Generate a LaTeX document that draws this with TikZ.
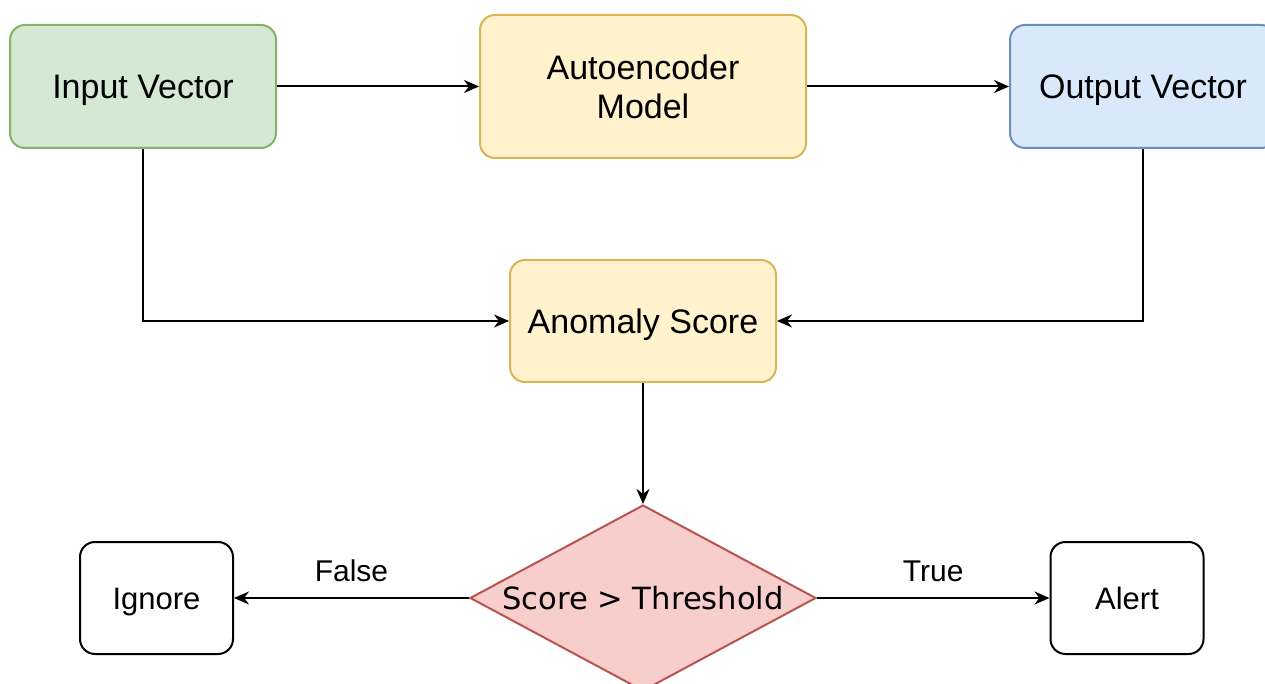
\documentclass[tikz,border=0pt]{standalone}
\usepackage{fontspec}
\setmainfont{Liberation Sans}
\newfontfamily\dejavu{DejaVu Sans}
\usetikzlibrary{shapes.geometric,arrows.meta}

\definecolor{greenfill}{HTML}{D5E8D4}
\definecolor{greenline}{HTML}{82B366}
\definecolor{yellowfill}{HTML}{FFF2CC}
\definecolor{yellowline}{HTML}{D6B656}
\definecolor{bluefill}{HTML}{DAE8FC}
\definecolor{blueline}{HTML}{6C8EBF}
\definecolor{redfill}{HTML}{F8CECC}
\definecolor{redline}{HTML}{B85450}

\tikzset{
  box/.style={draw, rounded corners=7.5pt, align=center, inner sep=0pt,
    font=\fontsize{17}{19.5}\selectfont},
  oneline/.style={text height=#1, text depth=0pt},
  smallbox/.style={box, oneline=11.1pt, font=\fontsize{15.5}{18}\selectfont,
    minimum width=76.5pt, minimum height=56pt},
  edgelabel/.style={above=7.5pt, inner sep=0pt, font=\fontsize{15}{18}\selectfont}
}

\begin{document}
\begin{tikzpicture}[x=0.5pt,y=-0.5pt,>={Stealth[length=7.5pt,width=6.5pt]},line width=1pt]
\clip (0,0) rectangle (1265,684);

\node[name=input, box, oneline=12.2pt, fill=greenfill, draw=greenline, minimum width=133pt, minimum height=61.5pt] at (143,86.5) {Input Vector};
\node[name=model, box, fill=yellowfill, draw=yellowline, minimum width=163pt, minimum height=71.5pt] at (643,86.5) {Autoencoder\\Model};
\node[name=output, box, oneline=12.2pt, fill=bluefill, draw=blueline, minimum width=133pt, minimum height=61.5pt] at (1143,86.5) {Output Vector};
\node[name=score, box, oneline=12.2pt, fill=yellowfill, draw=yellowline, minimum width=133pt, minimum height=61pt] at (643,321) {Anomaly Score};
\node[name=check, shape=diamond, draw=redline, fill=redfill, inner sep=0pt, aspect=1.86, oneline=11.2pt,
  minimum width=173pt, minimum height=93pt, font=\dejavu\fontsize{15.3}{18}\selectfont] at (643,598) {Score > Threshold};
\node[name=ignore, smallbox] at (156.5,598) {Ignore};
\node[name=alert, smallbox] at (1127,598) {Alert};

\draw(input.east) edge[->](model.west);
\draw(model.east) edge[->](output.west);
\draw[->](input.south) |- (score.west);
\draw[->](output.south) |- (score.east);
\draw(score.south) edge[->](check.north);
\draw(check.west) edge[->]node[edgelabel]{False}(ignore.east);
\draw(check.east) edge[->]node[edgelabel]{True}(alert.west);
\end{tikzpicture}
\end{document}
